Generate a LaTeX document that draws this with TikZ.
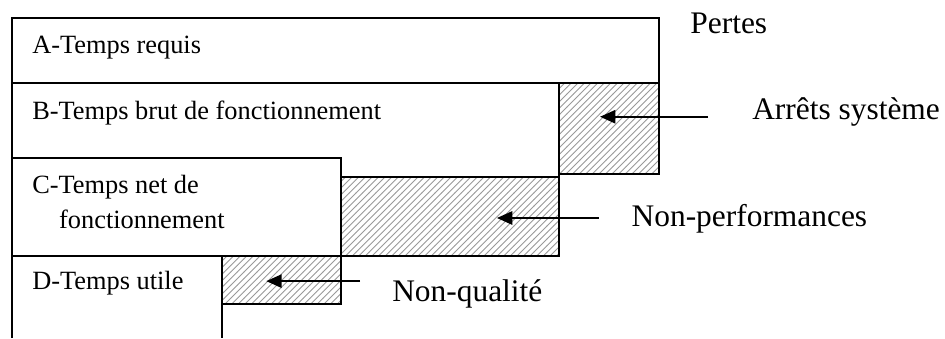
\documentclass[tikz,border=0pt]{standalone}
\usepackage{fontspec}
\setmainfont{Liberation Serif}
\usetikzlibrary{patterns,arrows.meta}

\tikzset{
  bar/.style={draw=black, line width=1pt, fill=white},
  loss/.style={draw=black, line width=1pt, pattern=north east lines, pattern color=gray!80},
  bartext/.style={anchor=base west, inner sep=0pt, font=\fontsize{12}{14}\selectfont},
  losstext/.style={anchor=base west, inner sep=0pt, font=\fontsize{14.3}{17}\selectfont},
  pointer/.style={line width=1pt, -{Triangle[length=7pt,width=6pt]}}
}

\begin{document}
\begin{tikzpicture}
\useasboundingbox (0,0) rectangle (15.12,5.408);

%TIME BARS
\draw[bar] (0.19,4.08) rectangle (10.54,5.12);
\draw[bar] (0.19,2.58) rectangle (8.94,4.08);
\draw[loss] (8.94,2.62) rectangle (10.54,4.08);
\draw[loss] (5.46,1.31) rectangle (8.94,2.58);
\draw[bar] (0.19,1.31) rectangle (5.46,2.88);
\draw[line width=1pt] (0.19,0) -- (0.19,1.31) -- (3.55,1.31) -- (3.55,0);
\draw[loss] (3.55,0.54) rectangle (5.46,1.31);

\node[bartext] (tA) at (0.51,4.56) {A-Temps requis};
\node[bartext] (tB) at (0.51,3.50) {B-Temps brut de fonctionnement};
\node[bartext] (tC) at (0.51,2.32) {C-Temps net de};
\node[bartext] (tC2) at (0.94,1.76) {fonctionnement};
\node[bartext] (tD) at (0.51,0.78) {D-Temps utile};

%LOSSES
\node[losstext] (pertes) at (11.04,4.88) {Pertes};
\node[losstext] (arrets) at (12.03,3.49) {Arrêts système};
\node[losstext] (perf) at (10.10,1.78) {Non-performances};
\node[losstext] (qual) at (6.27,0.58) {Non-qualité};

\coordinate (arretsTail) at (11.33,3.54);
\coordinate (arretsTip) at (9.60,3.54);
\coordinate (perfTail) at (9.58,1.92);
\coordinate (perfTip) at (7.95,1.92);
\coordinate (qualTail) at (5.76,0.91);
\coordinate (qualTip) at (4.26,0.91);

\draw[pointer] (arretsTail) -- (arretsTip);
\draw[pointer] (perfTail) -- (perfTip);
\draw[pointer] (qualTail) -- (qualTip);

\end{tikzpicture}
\end{document}
